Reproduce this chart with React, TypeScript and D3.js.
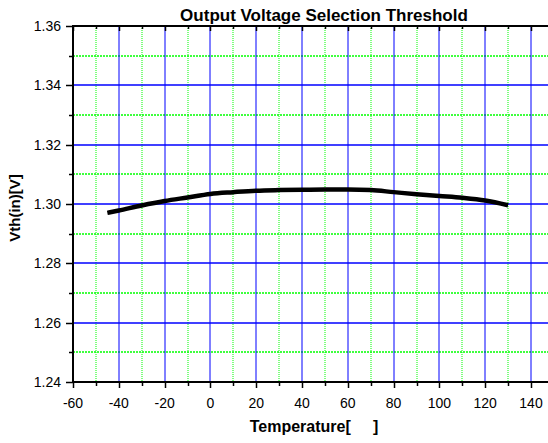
import React from "react";
import * as d3 from "d3";

const temps = [-45, -40, -30, -20, -10, 0, 10, 20, 30, 40, 50, 60, 70, 80, 90, 100, 110, 120, 130];
const vth = [1.297, 1.2978, 1.2995, 1.301, 1.3022, 1.3034, 1.304, 1.3045, 1.3047, 1.3048, 1.3049, 1.3049, 1.3047, 1.304, 1.3033, 1.3027, 1.3021, 1.3012, 1.2996];
const xTicks = [-60, -40, -20, 0, 20, 40, 60, 80, 100, 120, 140];
const yTicks = [1.24, 1.26, 1.28, 1.3, 1.32, 1.34, 1.36];
const title = "Output Voltage Selection Threshold";
const xTitle = "Temperature[     ]";
const yTitle = "Vth(in)[V]";

const W = 548, H = 443;
const L = 73, T = 26, B = 382;

const gp = (v: number) => Math.round(v);
const px = (v: number) => Math.round(v) + 0.5;

export default function App() {
  const x = d3.scaleLinear().domain([-60, 140]).range([L, 531]);
  const y = d3.scaleLinear().domain([1.24, 1.36]).range([B, T]);
  const R = x(150);
  const xMinor = d3.range(-50, 151, 20);
  const yMinor = d3.range(0, 6).map((i) => 1.25 + i * 0.02);
  const line = d3
    .line<number>()
    .x((_, i) => x(temps[i]))
    .y((d) => y(d))
    .curve(d3.curveMonotoneX);
  const font = "Arial, 'Liberation Sans', sans-serif";
  return (
    <svg
      width={W}
      height={H}
      style={{ position: "absolute", left: 0, top: 0, background: "#fff" }}
      fontFamily={font}
    >
      <rect x={0} y={0} width={W} height={H} fill="#fff" />
      {/* minor grid */}
      {xMinor.map((t) => (
        <line key={"xm" + t} x1={gp(x(t))} x2={gp(x(t))} y1={T} y2={B} stroke="#00ff00" strokeWidth={1} strokeDasharray="1,1" />
      ))}
      {yMinor.map((v) => (
        <line key={"ym" + v} x1={L} x2={R} y1={gp(y(v))} y2={gp(y(v))} stroke="#00ff00" strokeWidth={1.5} strokeDasharray="2,1" />
      ))}
      {/* major grid */}
      {xTicks.slice(1).map((t) => (
        <line key={"xg" + t} x1={gp(x(t))} x2={gp(x(t))} y1={T} y2={B} stroke="#0000ff" strokeWidth={1} />
      ))}
      {yTicks.slice(1, -1).map((v) => (
        <line key={"yg" + v} x1={L} x2={R} y1={gp(y(v))} y2={gp(y(v))} stroke="#0000ff" strokeWidth={1.3} />
      ))}
      {/* data */}
      <path d={line(vth) || ""} fill="none" stroke="#000" strokeWidth={4.5} strokeLinecap="butt" />
      {/* axes */}
      <line x1={L} x2={R} y1={B} y2={B} stroke="#000" strokeWidth={2} />
      <line x1={L} x2={R} y1={T} y2={T} stroke="#000" strokeWidth={2} />
      <line x1={L} x2={L} y1={T - 1} y2={B + 1} stroke="#000" strokeWidth={2} />
      {xTicks.map((t) => (
        <g key={"xt" + t}>
          <line x1={px(x(t))} x2={px(x(t))} y1={B} y2={B + 6} stroke="#000" strokeWidth={1.5} />
          <line x1={px(x(t))} x2={px(x(t))} y1={T} y2={T + 5} stroke="#000" strokeWidth={1.5} />
          <text x={x(t)} y={407.5} textAnchor="middle" fontSize={14} fill="#000">
            {t}
          </text>
        </g>
      ))}
      {xMinor.map((t) => (
        <g key={"xmt" + t}>
          <line x1={px(x(t))} x2={px(x(t))} y1={B} y2={B + 4} stroke="#000" strokeWidth={1.5} />
          <line x1={px(x(t))} x2={px(x(t))} y1={T} y2={T + 3} stroke="#000" strokeWidth={1.5} />
        </g>
      ))}
      {yTicks.map((v) => (
        <g key={"yt" + v}>
          <line x1={L - 7} x2={L} y1={px(y(v))} y2={px(y(v))} stroke="#000" strokeWidth={1.5} />
          <text x={61} y={y(v) + 5} textAnchor="end" fontSize={14} fill="#000">
            {v.toFixed(2)}
          </text>
        </g>
      ))}
      {yMinor.map((v) => (
        <line key={"ymt" + v} x1={L - 4} x2={L} y1={px(y(v))} y2={px(y(v))} stroke="#000" strokeWidth={1.5} />
      ))}
      <text x={324} y={21} textAnchor="middle" fontSize={17} fontWeight="bold" fill="#000">
        {title}
      </text>
      <text x={314} y={432} textAnchor="middle" fontSize={16} fontWeight="bold" fill="#000" style={{ whiteSpace: "pre" }}>
        {xTitle}
      </text>
      <text
        transform={`translate(20, 208) rotate(-90)`}
        textAnchor="middle"
        fontSize={15}
        fontWeight="bold"
        fill="#000"
      >
        {yTitle}
      </text>
    </svg>
  );
}
